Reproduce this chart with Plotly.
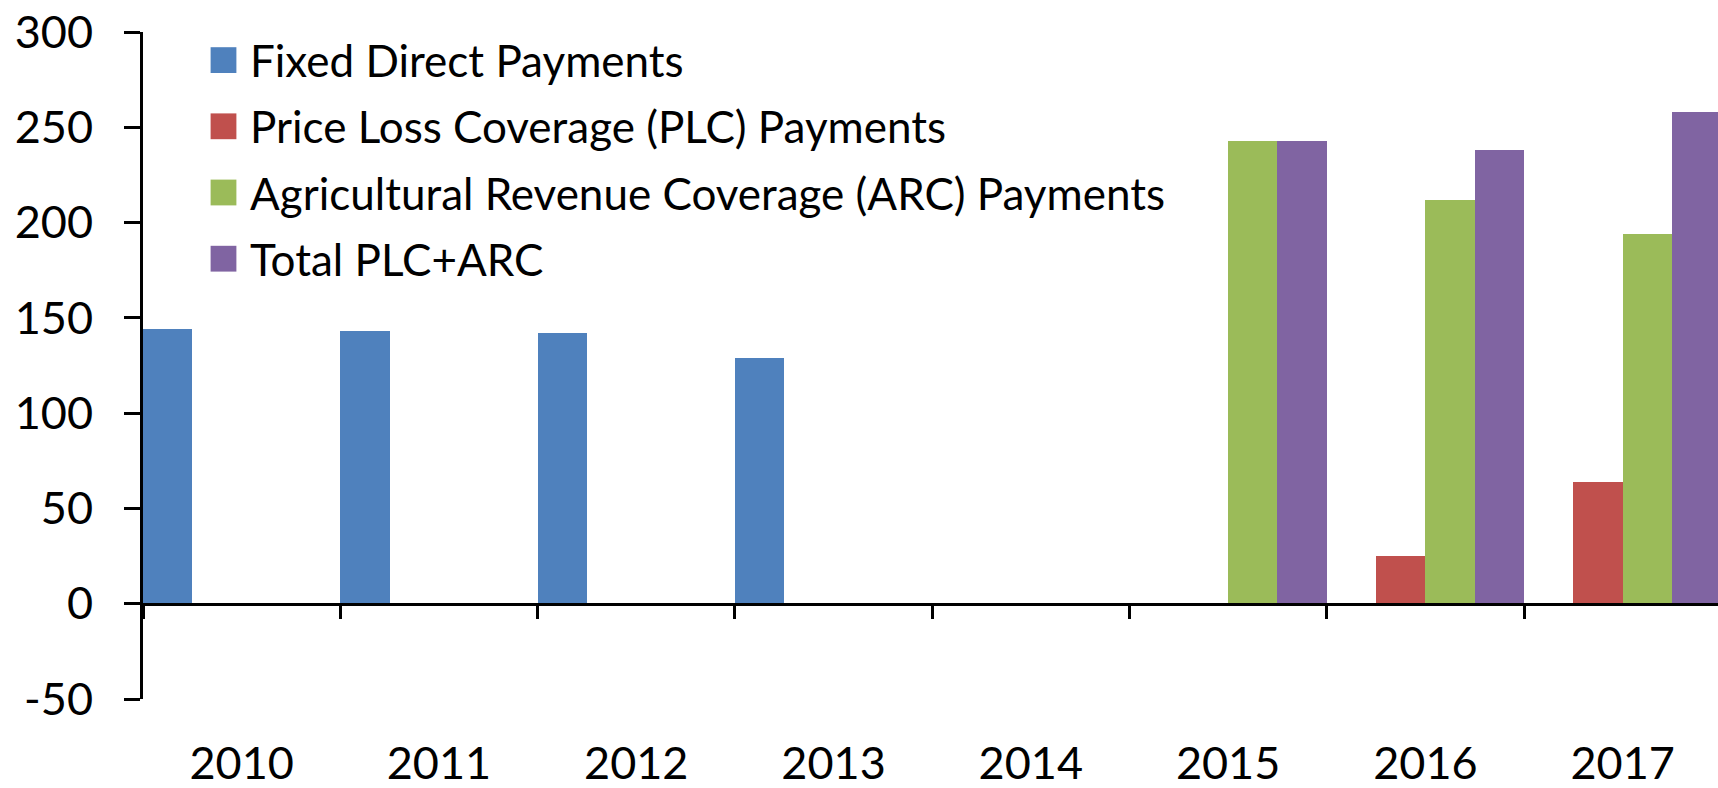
import plotly.graph_objs as go

years = ['2010', '2011', '2012', '2013', '2014', '2015', '2016', '2017']
fixed_direct = [144, 143, 142, 129, 0, 0, 0, 0]
plc_payments = [0, 0, 0, 0, 0, 0, 25, 64]
arc_payments = [0, 0, 0, 0, 0, 243, 212, 194]
total_plc_arc = [0, 0, 0, 0, 0, 243, 238, 258]

y_ticks = [-50, 0, 50, 100, 150, 200, 250, 300]
y_tick_text = ['-50', '0', '50', '100', '150', '200', '250', '300']

series = [
    ('Fixed Direct Payments', fixed_direct, '#4F81BD'),
    ('Price Loss Coverage (PLC) Payments', plc_payments, '#C0504D'),
    ('Agricultural Revenue Coverage (ARC) Payments', arc_payments, '#9BBB59'),
    ('Total PLC+ARC', total_plc_arc, '#8064A2'),
]

FONT = 'Lato'

fig = go.Figure()
for name, values, color in series:
    fig.add_trace(
        go.Bar(x=years, y=values, name=name, marker_color=color,
               marker_line_width=0, legendgroup=name)
    )

fig.update_layout(
    width=1718,
    height=788,
    barmode='group',
    bargap=0,
    bargroupgap=0,
    plot_bgcolor='white',
    paper_bgcolor='white',
    margin=dict(l=143, r=0, t=32, b=89, autoexpand=False),
    font=dict(family=FONT, size=45, color='black'),
    showlegend=True,
    legend=dict(
        x=0.040, y=1.0105, xanchor='left', yanchor='top',
        font=dict(family=FONT, size=44, color='black'),
        bgcolor='rgba(0,0,0,0)',
        tracegroupgap=6,
        itemwidth=34,
        itemclick=False,
    ),
)

# category axis sits on the zero line, labels pushed down to the bottom
fig.update_xaxes(
    type='category',
    range=[-0.5, 7.483],
    anchor='free',
    position=50 / 350,
    automargin=False,
    showline=True, linecolor='black', linewidth=3,
    ticks='outside', tickson='boundaries', ticklen=13, tickwidth=3, tickcolor='black',
    ticklabelstandoff=119,
    tickfont=dict(family=FONT, size=45, color='black'),
    showgrid=False, zeroline=False,
)

fig.update_yaxes(
    range=[-50, 300],
    tickmode='array', tickvals=y_ticks, ticktext=y_tick_text,
    automargin=False,
    showline=True, linecolor='black', linewidth=3,
    ticks='outside', ticklen=16, tickwidth=3, tickcolor='black',
    ticklabelstandoff=22,
    tickfont=dict(family=FONT, size=45, color='black'),
    showgrid=False, zeroline=False,
)

post_script = """
document.body.style.margin = '0';
document.body.style.overflow = 'hidden';
var gd = document.getElementById('{plot_id}');
function growLegendSquares() {
  gd.querySelectorAll('.legend .legendpoints path').forEach(function (p) {
    var t = p.getAttribute('transform') || '';
    if (t.indexOf('scale') === -1) {
      p.setAttribute('transform', t + ' translate(-4.5,0) scale(2.15)');
    }
  });
}
growLegendSquares();
gd.on('plotly_afterplot', growLegendSquares);
"""

fig.write_html("out.html", config={'displayModeBar': False}, post_script=post_script)
